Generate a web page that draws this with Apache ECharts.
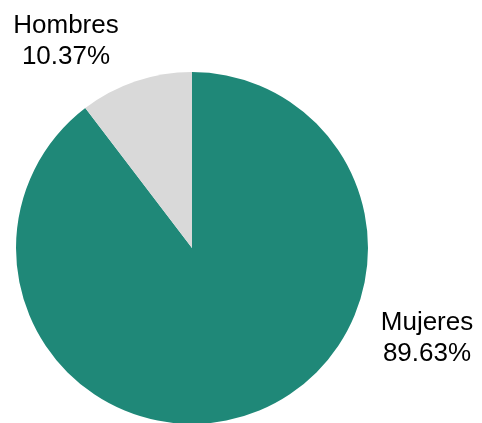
<!DOCTYPE html>
<html><head><meta charset="utf-8">
<script src="https://cdn.jsdelivr.net/npm/echarts@6/dist/echarts.min.js"></script>
<style>html,body{margin:0;padding:0;background:#fff}#c{width:482px;height:423px}</style>
</head><body><div id="c"></div>
<script>
const categories = ["Mujeres", "Hombres"];
const values = [89.63, 10.37];
const colors = ["#1f8878", "#d9d9d9"];
const labelPos = [{x: 427, y: 338}, {x: 66, y: 41}];

const chart = echarts.init(document.getElementById('c'), null, {renderer: 'canvas'});
chart.setOption({
  animation: false,
  series: [{
    type: 'pie',
    center: [192, 248],
    radius: [0, 176],
    startAngle: 90,
    clockwise: true,
    data: categories.map((c, i) => ({name: c, value: values[i], itemStyle: {color: colors[i]}})),
    label: {
      show: true,
      formatter: p => p.name + '\n' + p.value.toFixed(2) + '%',
      fontFamily: 'Liberation Sans, Arial, sans-serif',
      fontSize: 26,
      lineHeight: 31,
      color: '#000',
      align: 'center',
      overflow: 'none',
      width: 200
    },
    labelLine: {show: false},
    labelLayout: p => ({x: labelPos[p.dataIndex].x, y: labelPos[p.dataIndex].y, align: 'center', verticalAlign: 'middle'}),
    emphasis: {disabled: true}
  }]
});
</script></body></html>
